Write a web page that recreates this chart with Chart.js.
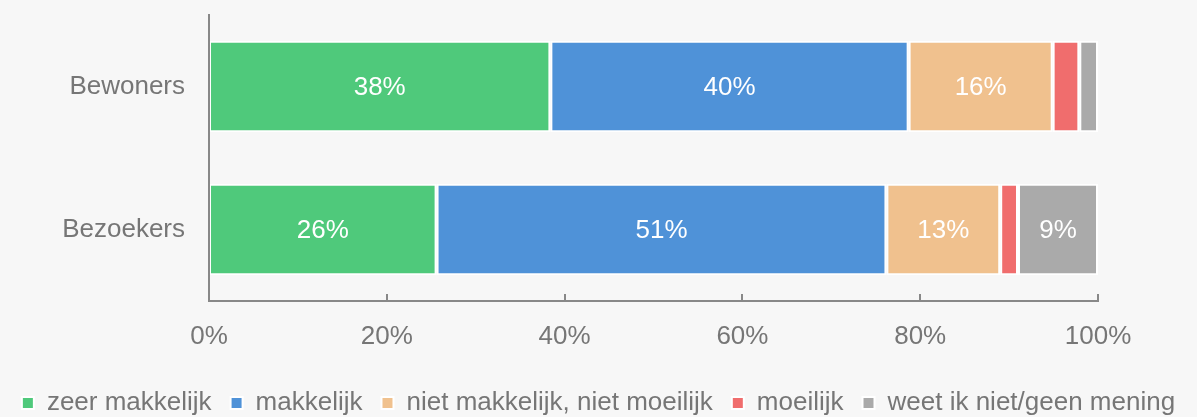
<!DOCTYPE html>
<html>
<head>
<meta charset="utf-8">
<script src="https://cdn.jsdelivr.net/npm/chart.js@4/dist/chart.umd.min.js"></script>
<style>
  html, body { margin: 0; padding: 0; background: #f7f7f7; }
  #wrap { width: 1197px; height: 417px; }
</style>
</head>
<body>
<div id="wrap"><canvas id="chart" width="1197" height="417"></canvas></div>
<script>
// ── data ──
const categories = ['Bewoners', 'Bezoekers'];
const seriesNames = ['zeer makkelijk', 'makkelijk', 'niet makkelijk, niet moeilijk', 'moeilijk', 'weet ik niet/geen mening'];
const zeerMakkelijk = [38.4, 25.6];
const makkelijk = [40.3, 50.6];
const nietMakkelijkNietMoeilijk = [16.2, 12.8];
const moeilijk = [3.0, 2.0];
const weetNiet = [2.1, 9.0];
const xTicks = [0, 20, 40, 60, 80, 100];

const colors = ['#4fc97b', '#4f92d8', '#f0c18e', '#f06d6d', '#aaaaaa'];
const FONT = '"Liberation Sans", Arial, sans-serif';
const AXIS = '#888888';
const TEXT = '#767676';
const BOTTOM_PAD = -9;
const PLOT_BOTTOM = 301;

Chart.defaults.font.family = FONT;
Chart.defaults.font.size = 26;
Chart.defaults.color = TEXT;

// white % labels inside the wider segments
const segmentLabels = {
  id: 'segmentLabels',
  afterDatasetsDraw(chart) {
    const ctx = chart.ctx;
    ctx.save();
    ctx.fillStyle = '#ffffff';
    ctx.font = '26px ' + FONT;
    ctx.textAlign = 'center';
    ctx.textBaseline = 'middle';
    chart.data.datasets.forEach((ds, i) => {
      chart.getDatasetMeta(i).data.forEach((bar, j) => {
        const v = ds.data[j];
        if (v < 5) return;
        const p = bar.getProps(['x', 'y', 'base'], true);
        ctx.fillText(Math.round(v) + '%', (p.x + p.base) / 2, p.y + 1);
      });
    });
    ctx.restore();
  }
};

// y axis line on top of the bars + short tick marks pointing up from the x axis
const axisMarks = {
  id: 'axisMarks',
  afterDraw(chart) {
    const x = chart.scales.x;
    const area = chart.chartArea;
    const ctx = chart.ctx;
    ctx.save();
    ctx.strokeStyle = AXIS;
    ctx.lineWidth = 2;
    ctx.beginPath();
    ctx.moveTo(area.left, area.top);
    ctx.lineTo(area.left, area.bottom + 1);
    ctx.stroke();
    xTicks.forEach(t => {
      const px = Math.round(x.getPixelForValue(t));
      ctx.beginPath();
      ctx.moveTo(px, x.top - 7);
      ctx.lineTo(px, x.top + 1);
      ctx.stroke();
    });
    ctx.restore();
  }
};

const seriesData = [zeerMakkelijk, makkelijk, nietMakkelijkNietMoeilijk, moeilijk, weetNiet];

new Chart(document.getElementById('chart'), {
  type: 'bar',
  data: {
    labels: categories,
    datasets: seriesNames.map((name, i) => ({
      label: name,
      data: seriesData[i],
      backgroundColor: colors[i],
      borderColor: '#ffffff',
      borderWidth: 2,
      borderSkipped: false,
      categoryPercentage: 1,
      barPercentage: 0.64
    }))
  },
  options: {
    indexAxis: 'y',
    responsive: false,
    animation: false,
    layout: { padding: { top: 15, right: 0, left: 0, bottom: BOTTOM_PAD } },
    plugins: {
      tooltip: { enabled: false },
      legend: {
        position: 'bottom',
        labels: { boxWidth: 12, boxHeight: 12, padding: 19, color: TEXT, font: { size: 26 } }
      }
    },
    scales: {
      x: {
        stacked: true,
        min: 0,
        max: 100,
        afterBuildTicks: s => { s.ticks = xTicks.map(v => ({ value: v })); },
        afterFit: s => { s.height = s.chart.height - BOTTOM_PAD - PLOT_BOTTOM - s.chart.legend.height; },
        grid: { display: false, drawTicks: false },
        border: { display: true, color: AXIS, width: 2 },
        ticks: { padding: 20, color: TEXT, callback: v => v + '%' }
      },
      y: {
        stacked: true,
        afterFit: s => { s.width = 209; s.paddingTop = 0; s.paddingBottom = 0; },
        grid: { display: false, drawTicks: false },
        border: { display: true, color: AXIS, width: 2 },
        ticks: { padding: 24, color: TEXT }
      },
      // empty right-hand spacer so the plot ends where the reference's does
      yRight: {
        type: 'category',
        position: 'right',
        afterFit: s => { s.width = 99; s.paddingTop = 0; s.paddingBottom = 0; },
        grid: { display: false, drawTicks: false },
        border: { display: false },
        ticks: { display: false }
      }
    }
  },
  plugins: [segmentLabels, axisMarks]
});
</script>
</body>
</html>
